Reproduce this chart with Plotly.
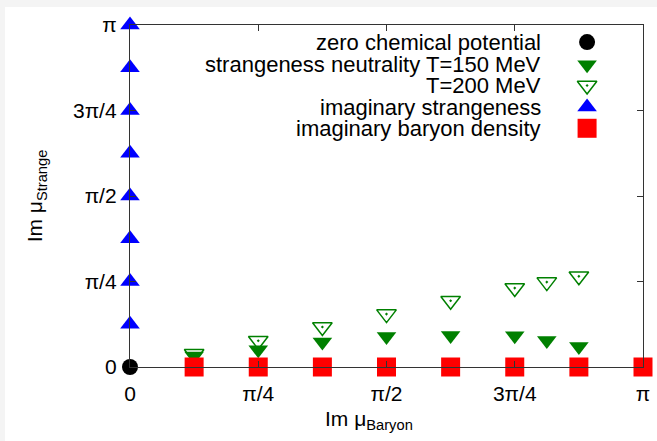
import math
import plotly.graph_objects as go

PI = math.pi

# ---------------- data (positions in units of pi) -------------
zero_x_over_pi = [0.0]
zero_y_over_pi = [0.0]

neutral_x_over_pi = [0.125, 0.25, 0.375, 0.5, 0.625, 0.75, 0.8125, 0.875]
t150_y_rad = [0.100, 0.158, 0.229, 0.281, 0.290, 0.287, 0.244, 0.189]
t200_y_rad = [0.121, 0.241, 0.367, 0.486, 0.608, 0.725, 0.780, 0.833]

imag_strange_y_over_pi = [0.125, 0.25, 0.375, 0.5, 0.625, 0.75, 0.875, 1.0]
imag_strange_x_over_pi = [0.0] * 8

imag_baryon_x_over_pi = [0.125, 0.25, 0.375, 0.5, 0.625, 0.75, 0.875, 1.0]
imag_baryon_y_over_pi = [0.0] * 8

tick_vals_over_pi = [0.0, 0.25, 0.5, 0.75, 1.0]
tick_text = ["0", "π/4", "π/2", "3π/4", "π"]

legend_labels = ["zero chemical potential",
                 "strangeness neutrality T=150 MeV",
                 "T=200 MeV",
                 "imaginary strangeness",
                 "imaginary baryon density"]

# ---------------- styles ----------------
FONT = "Liberation Sans, Arial, Helvetica, sans-serif"
FS = 21
GREEN = "#008000"
styles = [
    dict(symbol="circle", size=16, color="black"),
    dict(symbol="triangle-down", size=17, color=GREEN),
    dict(symbol="triangle-down-open-dot", size=17, color=GREEN, line=dict(color=GREEN, width=1.5)),
    dict(symbol="triangle-up", size=17, color="#0000ff"),
    dict(symbol="square", size=19, color="#ff0000"),
]

fig = go.Figure()

def pi_scale(v):
    return [a * PI for a in v]

# draw order: open green, filled green, blue, red, black
fig.add_trace(go.Scatter(x=pi_scale(neutral_x_over_pi), y=t200_y_rad, mode="markers",
                         marker=styles[2], name=legend_labels[2], cliponaxis=False, showlegend=False))
fig.add_trace(go.Scatter(x=pi_scale(neutral_x_over_pi), y=t150_y_rad, mode="markers",
                         marker=styles[1], name=legend_labels[1], cliponaxis=False, showlegend=False))
fig.add_trace(go.Scatter(x=pi_scale(imag_strange_x_over_pi), y=pi_scale(imag_strange_y_over_pi), mode="markers",
                         marker=styles[3], name=legend_labels[3], cliponaxis=False, showlegend=False))
fig.add_trace(go.Scatter(x=pi_scale(imag_baryon_x_over_pi), y=pi_scale(imag_baryon_y_over_pi), mode="markers",
                         marker=styles[4], name=legend_labels[4], cliponaxis=False, showlegend=False))
fig.add_trace(go.Scatter(x=pi_scale(zero_x_over_pi), y=pi_scale(zero_y_over_pi), mode="markers",
                         marker=styles[0], name=legend_labels[0], cliponaxis=False, showlegend=False))

# ---------------- key (gnuplot style: right-aligned text, symbol to the right) ----------------
key_rows = [0.950, 0.884, 0.823, 0.760, 0.698]
key_text_x = 0.805
key_sym_x = 0.891
for i, lab in enumerate(legend_labels):
    fig.add_trace(go.Scatter(x=[key_sym_x], y=[key_rows[i]], xaxis="x2", yaxis="y2", mode="markers",
                             marker=styles[i], showlegend=False, hoverinfo="skip", cliponaxis=False))
    fig.add_annotation(x=key_text_x, y=key_rows[i], xref="paper", yref="paper", text=lab,
                       showarrow=False, xanchor="right", yanchor="middle",
                       font=dict(family=FONT, size=22, color="black"))

# x axis title (gnuplot centres it slightly left of the plot centre)
fig.add_annotation(x=0.466, y=-0.155, xref="paper", yref="paper", text="Im μ<sub>Baryon</sub>",
                   showarrow=False, xanchor="center", yanchor="middle",
                   font=dict(family=FONT, size=FS, color="black"))

axis_common = dict(
    range=[0, PI], tickmode="array", tickvals=pi_scale(tick_vals_over_pi), ticktext=tick_text,
    ticks="inside", ticklen=6, tickwidth=1, tickcolor="#333",
    showline=True, linecolor="#333", linewidth=1.3, mirror="ticks",
    showgrid=False, zeroline=False, ticklabelstandoff=8, automargin=False,
    tickfont=dict(family=FONT, size=FS, color="black"),
)

fig.update_layout(
    width=657, height=441,
    margin=dict(l=130, r=14, t=25, b=74, pad=0, autoexpand=False),
    paper_bgcolor="#f4f4f4", plot_bgcolor="white",
    xaxis=dict(**axis_common),
    yaxis=dict(**axis_common,
               title=dict(text="Im μ<sub>Strange</sub>", font=dict(family=FONT, size=FS, color="black"), standoff=24)),
    xaxis2=dict(overlaying="x", range=[0, 1], visible=False, anchor="y2"),
    yaxis2=dict(overlaying="y", range=[0, 1], visible=False, anchor="x2"),
    showlegend=False,
    shapes=[dict(type="rect", xref="paper", yref="paper", x0=-0.2437, x1=1.1, y0=-0.3, y1=1.0527,
                 fillcolor="white", line=dict(width=0), layer="below")],
)

fig.write_html("out.html", config={"displayModeBar": False},
               post_script="document.body.style.margin='0';document.body.style.padding='0';")
